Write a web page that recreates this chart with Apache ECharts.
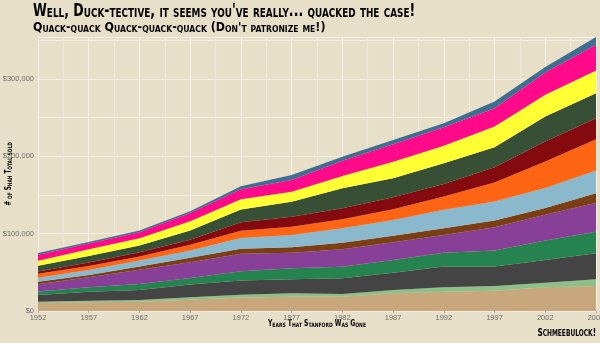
<!DOCTYPE html>
<html>
<head>
<meta charset="utf-8">
<style>
  html, body { margin: 0; padding: 0; background: #e8dfc9; }
  #chart { width: 600px; height: 343px; }
</style>
<script src="https://cdn.jsdelivr.net/npm/echarts@6/dist/echarts.min.js"></script>
</head>
<body>
<div id="chart"></div>
<script>
// Sampling years (every five years)
const years = ['1952', '1957', '1962', '1967', '1972', '1977', '1982', '1987', '1992', '1997', '2002', '2007'];

// Layer values in dollars, bottom layer first
const sand     = [10400, 11300, 12000, 14500, 17500, 18500, 18500, 22900, 25000, 26300, 30700, 32400];
const sage     = [ 1700,  2100,  2200,  3200,  3400,  4400,  3500,  4300,  5700,  6100,  6000,  8700];
const charcoal = [ 8700, 11600, 13000, 16500, 18500, 18100, 20300, 22400, 26700, 25000, 29400, 33600];
const jade     = [ 4300,  5700,  7800,  8500, 12000, 14200, 15000, 16400, 18100, 20700, 25000, 27900];
const plum     = [ 9600, 12900, 18500, 20500, 22500, 20200, 22500, 22900, 22900, 30300, 33300, 37500];
const umber    = [ 3000,  3000,  3900,  5700,  6500,  7000,  8500,  8500,  8700,  8500,  8700, 12200];
const sky      = [ 5200,  6500,  7800,  9400, 14000, 15900, 18600, 20300, 23700, 24600, 25900, 29300];
const tangerine= [ 5200,  5200,  5200,  7400,  9500, 10700, 11700, 13900, 17200, 24600, 34400, 40600];
const crimson  = [ 3000,  4300,  5600,  6500, 11000, 12900, 14200, 15500, 16400, 19900, 25900, 27200];
const forest   = [ 7400,  8700,  8700, 12000, 16500, 19400, 25900, 24600, 26800, 25900, 32300, 32400];
const lemon    = [ 6500,  8700,  9500, 12000, 13000, 12900, 15900, 21500, 22400, 26700, 28100, 29300];
const fuchsia  = [ 7800,  7300,  7800, 10400, 13000, 15100, 19800, 22500, 24200, 23800, 28900, 33300];
const steel    = [ 2200,  1800,  2200,  2500,  4000,  6500,  5200,  5600,  5200,  8500,  7000, 10000];

const layers = [
  { name: 'sand',      values: sand,      color: '#c9a77d' },
  { name: 'sage',      values: sage,      color: '#8dbf89' },
  { name: 'charcoal',  values: charcoal,  color: '#444444' },
  { name: 'jade',      values: jade,      color: '#24834f' },
  { name: 'plum',      values: plum,      color: '#883f98' },
  { name: 'umber',     values: umber,     color: '#7b3e15' },
  { name: 'sky',       values: sky,       color: '#8ab8cc' },
  { name: 'tangerine', values: tangerine, color: '#fd6414' },
  { name: 'crimson',   values: crimson,   color: '#840a10' },
  { name: 'forest',    values: forest,    color: '#364f35' },
  { name: 'lemon',     values: lemon,     color: '#ffff33' },
  { name: 'fuchsia',   values: fuchsia,   color: '#ff0a8b' },
  { name: 'steel',     values: steel,     color: '#3e6f90' }
];

const titleText    = "Well, Duck-tective, it seems you've really... quacked the case!";
const subtitleText = "Quack-quack Quack-quack-quack (Don't patronize me!)";
const yTitleText   = '# of Shah Total sold';
const xTitleText   = 'Years That Stanford Was Gone';
const captionText  = 'Schmeebulock!';

const FONT = '"Liberation Sans Narrow", "DejaVu Sans Condensed", "DejaVu Sans", sans-serif';

// Turn a string into rich-text runs: capitals big, lowercase as small capitals
function smallCaps(text) {
  let out = '', cur = null, buf = '';
  for (const ch of text) {
    const cls = (ch >= 'a' && ch <= 'z') ? 's' : 'b';
    if (cls !== cur) {
      if (buf) out += '{' + cur + '|' + buf + '}';
      cur = cls; buf = '';
    }
    buf += ch.toUpperCase();
  }
  if (buf) out += '{' + cur + '|' + buf + '}';
  return out;
}
function capsRich(big, small) {
  const base = { fontFamily: FONT, fontWeight: 'bold', color: '#000', verticalAlign: 'bottom' };
  return {
    b: Object.assign({ fontSize: big }, base),
    s: Object.assign({ fontSize: small }, base)
  };
}
function capsText(text, x, y, big, small, align, squeeze, extra) {
  return Object.assign({
    type: 'text',
    x: x, y: y,
    scaleX: squeeze,
    style: { text: smallCaps(text), rich: capsRich(big, small), align: align, verticalAlign: 'top' }
  }, extra || {});
}

const chart = echarts.init(document.getElementById('chart'), null, { renderer: 'canvas' });

const series = layers.map(l => ({
  name: l.name,
  type: 'line',
  stack: 'total',
  symbol: 'none',
  lineStyle: { width: 0 },
  areaStyle: { color: l.color, opacity: 1 },
  itemStyle: { color: l.color },
  emphasis: { disabled: true },
  xAxisIndex: 0,
  data: l.values
}));

chart.setOption({
  animation: false,
  backgroundColor: '#e8dfc9',
  grid: { left: 38, right: 4, top: 37, bottom: 32, containLabel: false, outerBoundsMode: 'none' },
  xAxis: [
    {
      type: 'category',
      data: years,
      boundaryGap: false,
      axisLine: { show: false },
      axisTick: { show: true, length: 2, alignWithLabel: true, lineStyle: { color: '#aaa' } },
      axisLabel: {
        color: '#707070', fontSize: 7.5, fontFamily: 'Liberation Sans', margin: 3, interval: 0,
        alignMinLabel: 'center', alignMaxLabel: 'center'
      },
      splitLine: { show: false },
      z: 3
    },
    {
      // half-step grid for the vertical guide lines
      type: 'value',
      position: 'bottom',
      min: 0,
      max: (years.length - 1) * 2,
      interval: 1,
      axisLine: { show: false },
      axisTick: { show: false },
      axisLabel: { show: false },
      splitLine: {
        show: true,
        lineStyle: { color: ['#f4f0e8', '#efe9dc'], width: 1.1 }
      }
    }
  ],
  yAxis: {
    type: 'value',
    min: 0,
    max: 'dataMax',
    interval: 50000,
    axisLine: { show: false },
    axisTick: { show: false },
    axisLabel: {
      color: '#707070', fontSize: 7.5, fontFamily: 'Liberation Sans', margin: 4,
      showMaxLabel: false,
      formatter: v => (v % 100000 === 0) ? '$' + v.toLocaleString('en-US') : ''
    },
    splitLine: { show: true, lineStyle: { color: '#f2eee5', width: 1.1 } }
  },
  graphic: [
    capsText(titleText, 33, 3, 17, 12, 'left', 0.82),
    capsText(subtitleText, 33, 21, 13, 9, 'left', 0.95),
    capsText(yTitleText, 5, 174, 8, 6, 'center', 0.8, { rotation: Math.PI / 2 }),
    capsText(xTitleText, 317, 320, 8, 6, 'center', 0.84),
    capsText(captionText, 596, 328, 10, 8, 'right', 0.82)
  ],
  series: series
});
</script>
</body>
</html>
